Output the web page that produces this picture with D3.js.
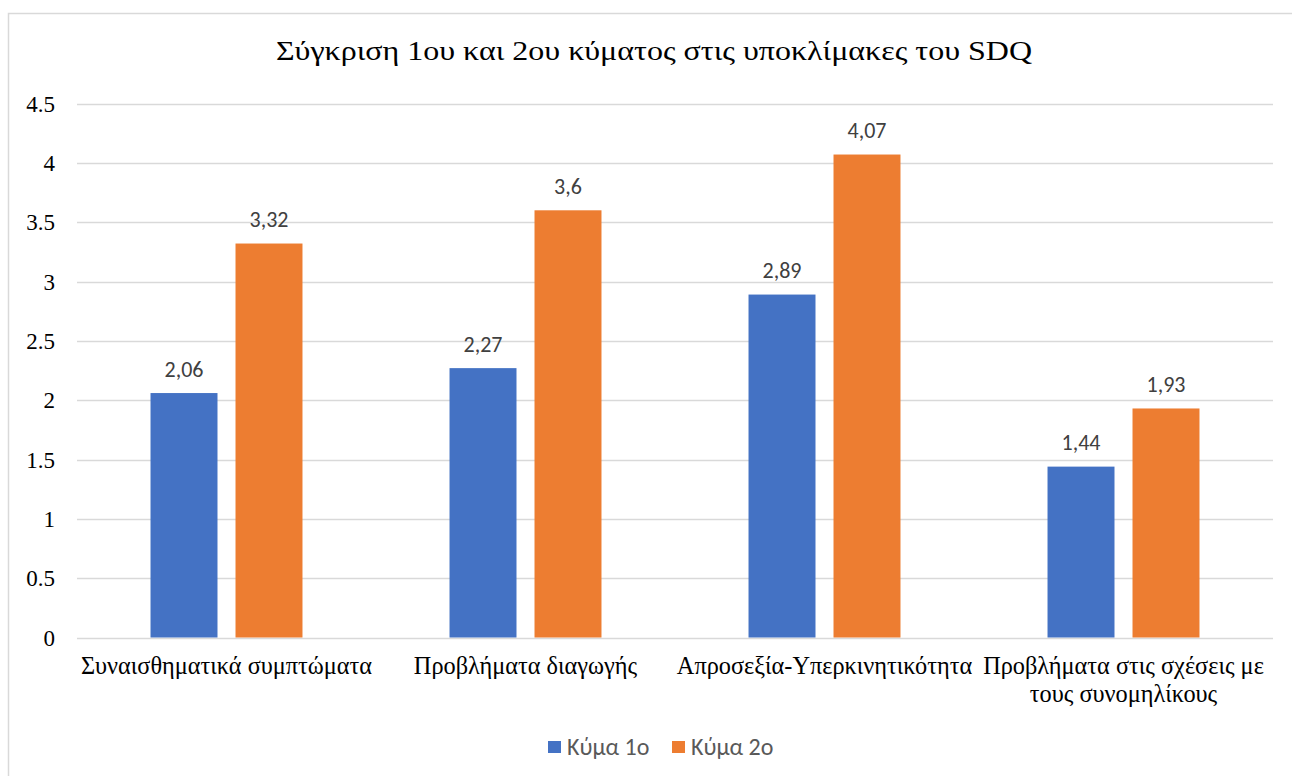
<!DOCTYPE html>
<html>
<head>
<meta charset="utf-8">
<script src="https://cdn.jsdelivr.net/npm/d3@7"></script>
<style>
  html, body { margin: 0; padding: 0; background: #fff; }
  svg { display: block; }
</style>
</head>
<body>
<svg id="chart" width="1292" height="776"></svg>
<script>
// SDQ subscale means, wave 1 vs wave 2
const categories = [
  ["Συναισθηματικά συμπτώματα"],
  ["Προβλήματα διαγωγής"],
  ["Απροσεξία-Υπερκινητικότητα"],
  ["Προβλήματα στις σχέσεις με", "τους συνομηλίκους"]
];
const seriesNames = ["Κύμα 1ο", "Κύμα 2ο"];
const wave1 = [2.06, 2.27, 2.89, 1.44];
const wave2 = [3.32, 3.6, 4.07, 1.93];
const yTicks = [0, 0.5, 1, 1.5, 2, 2.5, 3, 3.5, 4, 4.5];
const colors = ["#4472C4", "#ED7D31"];

const SERIF = "Liberation Serif, Times New Roman, serif";
const SANS = "Carlito, Liberation Sans, sans-serif";

const svg = d3.select("#chart");

// chart frame
svg.append("rect")
  .attr("x", 8.5).attr("y", 13.5)
  .attr("width", 1300).attr("height", 800)
  .attr("fill", "#fff").attr("stroke", "#d9d9d9").attr("stroke-width", 1.5);

const plot = { left: 77, right: 1273, top: 103.5, bottom: 637.5 };

const x = d3.scaleBand()
  .domain(d3.range(categories.length))
  .range([plot.left, plot.right]);

const xInner = d3.scaleBand()
  .domain([0, 1])
  .range([0, x.bandwidth()])
  .paddingInner(0.212)
  .paddingOuter(0.865);

const y = d3.scaleLinear().domain([0, 4.5]).range([plot.bottom, plot.top]);

// title
svg.append("text")
  .attr("x", 654).attr("y", 60)
  .attr("text-anchor", "middle")
  .attr("textLength", 756)
  .attr("lengthAdjust", "spacingAndGlyphs")
  .style("font-family", SERIF).style("font-size", "28px")
  .attr("fill", "#000")
  .text("Σύγκριση 1ου και 2ου κύματος στις υποκλίμακες του SDQ");

// gridlines
svg.append("g").selectAll("line").data(yTicks).join("line")
  .attr("x1", plot.left).attr("x2", plot.right)
  .attr("y1", d => Math.round(y(d)) + 0.5).attr("y2", d => Math.round(y(d)) + 0.5)
  .attr("stroke", "#d9d9d9").attr("stroke-width", 1.5);

// y axis labels
const yAxis = d3.axisLeft(y).tickValues(yTicks).tickSize(0).tickPadding(0)
  .tickFormat(d => String(d));
svg.append("g")
  .attr("transform", `translate(${plot.left - 22},0)`)
  .call(yAxis)
  .call(g => g.select(".domain").remove())
  .call(g => g.selectAll("text")
    .style("font-family", SERIF).style("font-size", "23px").attr("fill", "#000")
    .attr("dy", "0.33em"));

// bars with value labels
const series = [wave1, wave2];
series.forEach((vals, si) => {
  const g = svg.append("g");
  g.selectAll("rect").data(vals).join("rect")
    .attr("x", (d, i) => x(i) + xInner(si))
    .attr("width", xInner.bandwidth())
    .attr("y", d => y(d))
    .attr("height", d => y(0) - y(d))
    .attr("fill", colors[si]);
  g.selectAll("text").data(vals).join("text")
    .attr("x", (d, i) => x(i) + xInner(si) + xInner.bandwidth() / 2)
    .attr("y", d => y(d) - 16.5)
    .attr("text-anchor", "middle")
    .style("font-family", SANS).style("font-size", "22px")
    .attr("fill", "#404040")
    .text(d => String(d).replace(".", ","));
});

// category labels
const cat = svg.append("g").selectAll("text").data(categories).join("text")
  .attr("x", (d, i) => x(i) + x.bandwidth() / 2)
  .attr("y", 674)
  .attr("text-anchor", "middle")
  .style("font-family", SERIF).style("font-size", "24.3px").attr("fill", "#000");
cat.selectAll("tspan").data(d => d).join("tspan")
  .attr("x", function() { return d3.select(this.parentNode).attr("x"); })
  .attr("dy", (d, i) => i === 0 ? 0 : 28)
  .text(d => d);

// legend
const legend = svg.append("g").attr("transform", "translate(548,747)");
const legendX = [0, 124];
seriesNames.forEach((name, i) => {
  legend.append("rect")
    .attr("x", legendX[i]).attr("y", -6)
    .attr("width", 13).attr("height", 12)
    .attr("fill", colors[i]);
  legend.append("text")
    .attr("x", legendX[i] + 19).attr("y", 0)
    .attr("dy", "0.33em")
    .style("font-family", SANS).style("font-size", "24px")
    .attr("fill", "#595959")
    .text(name);
});
</script>
</body>
</html>
